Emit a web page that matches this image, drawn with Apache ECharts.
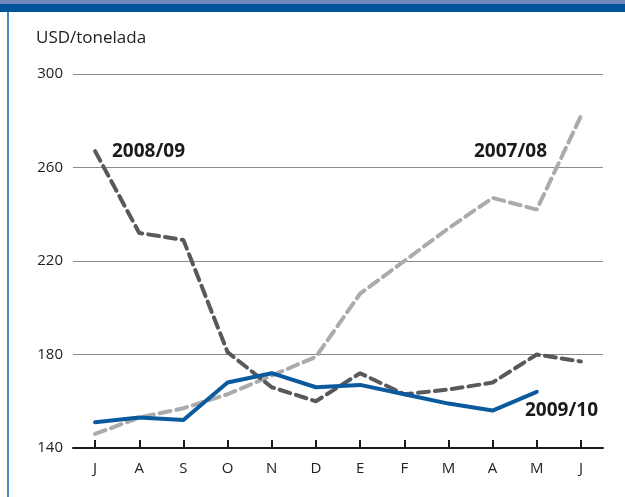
<!DOCTYPE html>
<html>
<head>
<meta charset="utf-8">
<script src="https://cdn.jsdelivr.net/npm/echarts@6/dist/echarts.min.js"></script>
<style>
html,body{margin:0;padding:0;background:#fff;}
#chart{width:625px;height:497px;}
</style>
</head>
<body>
<div id="chart"></div>
<script>
const months = ['J','A','S','O','N','D','E','F','M','A','M','J'];
const yTicks = [140, 180, 220, 260, 300];
const s0708 = [146, 153, 157, 163, 171, 179, 206, 220, 234, 247, 242, 282];
const s0809 = [267, 232, 229, 181, 166, 160, 172, 163, 165, 168, 180, 177];
const s0910 = [151, 153, 152, 168, 172, 166, 167, 163, 159, 156, 164, null];
const seriesNames = ['2007/08', '2008/09', '2009/10'];

const FONT = '"Open Sans", "Noto Sans", sans-serif';
const chart = echarts.init(document.getElementById('chart'), null, {renderer: 'canvas'});

chart.setOption({
  animation: false,
  backgroundColor: '#ffffff',
  grid: {left: 73, right: 22, top: 74, bottom: 49},
  xAxis: {
    type: 'category',
    data: months,
    boundaryGap: true,
    axisLine: {lineStyle: {color: '#1a1a1a', width: 2}},
    axisTick: {show: true, inside: true, alignWithLabel: true, length: 8, lineStyle: {color: '#1a1a1a', width: 2}},
    axisLabel: {color: '#222', fontFamily: FONT, fontSize: 15, margin: 13},
    splitLine: {show: false}
  },
  yAxis: {
    type: 'value',
    min: yTicks[0],
    max: yTicks[yTicks.length - 1],
    interval: 40,
    axisLine: {show: false},
    axisTick: {show: false},
    axisLabel: {color: '#222', fontFamily: FONT, fontSize: 15, margin: 10},
    splitLine: {lineStyle: {color: '#8c8c8c', width: 1}}
  },
  series: [
    {
      name: seriesNames[0], type: 'line', data: s0708, symbol: 'none',
      lineStyle: {color: '#a9abae', width: 4, type: [11, 6], cap: 'round'},
      z: 2
    },
    {
      name: seriesNames[1], type: 'line', data: s0809, symbol: 'none',
      lineStyle: {color: '#58595b', width: 4, type: [11, 6], cap: 'round'},
      z: 3
    },
    {
      name: seriesNames[2], type: 'line', data: s0910, symbol: 'none',
      lineStyle: {color: '#0b5a9e', width: 4, cap: 'round', join: 'round'},
      z: 4
    }
  ],
  graphic: [
    {type: 'rect', left: 0, top: 0, shape: {width: 625, height: 4}, style: {fill: '#7089bd'}, silent: true},
    {type: 'rect', left: 0, top: 4, shape: {width: 625, height: 8}, style: {fill: '#00559a'}, silent: true},
    {type: 'rect', left: 7, top: 12, shape: {width: 2, height: 485}, style: {fill: '#4a86c2'}, silent: true},
    {type: 'text', left: 36, top: 30, style: {text: 'USD/tonelada', fill: '#222', font: '17px ' + FONT}},
    {type: 'text', left: 112, top: 142, style: {text: seriesNames[1], fill: '#1a1a1a', font: 'bold 19px ' + FONT}},
    {type: 'text', left: 474, top: 142, style: {text: seriesNames[0], fill: '#1a1a1a', font: 'bold 19px ' + FONT}},
    {type: 'text', left: 525, top: 401, style: {text: seriesNames[2], fill: '#1a1a1a', font: 'bold 19px ' + FONT}}
  ]
});
</script>
</body>
</html>
